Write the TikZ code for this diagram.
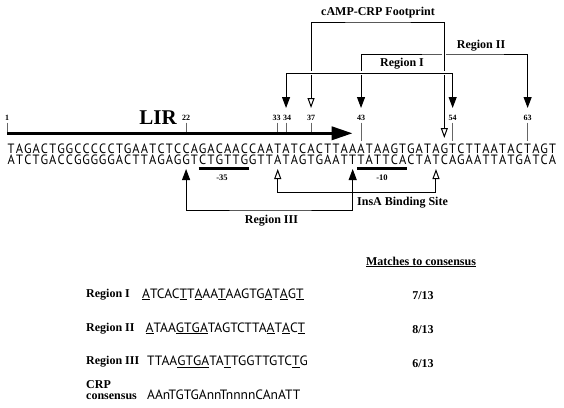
\documentclass[tikz,border=0pt]{standalone}
\usepackage{fontspec}
\setmainfont{Liberation Serif}
\newfontfamily\seqfont{PT Sans}
\newfontfamily\strandfont[FakeStretch=0.92]{PT Sans}
\usetikzlibrary{arrows.meta}
\newcommand\mt[1]{\underline{#1}}
\tikzset{fullTip/.tip={Triangle[length=11pt,width=8pt]},
  openTip/.tip={Triangle[open,length=10pt,width=7pt]},
  lirTip/.tip={Triangle[length=21pt,width=13pt]}}

\begin{document}
\begin{tikzpicture}
[x=1pt,y=-1pt,
  seqDecorate/.style={font=\strandfont\fontsize{13.5}{14}\selectfont,inner sep=0pt,
    minimum width=7pt,text height=10pt,text depth=0pt,anchor=south},
  rowDecorate/.style={font=\seqfont\fontsize{13.5}{14}\selectfont,inner sep=0pt,anchor=base west},
  numDecorate/.style={font=\bfseries\fontsize{8}{9}\selectfont,inner sep=0pt,
    text height=6pt,text depth=0pt,anchor=south},
  labelDecorate/.style={font=\bfseries\fontsize{12}{13}\selectfont,inner sep=0pt,anchor=base},
  lineDecorate/.style={line width=1pt},
  tickDecorate/.style={line width=1pt,draw=black!60},
  bridgeDecorate/.style={preaction={draw=white,line width=4pt,-}},
  boxDecorate/.style={line width=3.5pt}]
\useasboundingbox (0,0) rectangle (564,407);
%% levels
\coordinate (numlev) at (0,121);
\coordinate (barlev) at (0,133.3);
\coordinate (tiplev) at (0,108);
\coordinate (bottiplev) at (0,169);
%% the two strands
\foreach \b [count=\i] in {T,A,G,A,C,T,G,G,C,C,C,C,C,T,G,A,A,T,C,T,C,C,A,G,A,C,A,A,C,C,
  A,A,T,A,T,C,A,C,T,T,A,A,A,T,A,A,G,T,G,A,T,A,G,T,C,T,T,A,A,T,A,C,T,A,G,T} {
  \node (t\i) at (2.83+8.33*\i,153.5) [seqDecorate] {\b};
}
\foreach \b [count=\i] in {A,T,C,T,G,A,C,C,G,G,G,G,G,A,C,T,T,A,G,A,G,G,T,C,T,G,T,T,G,G,
  T,T,A,T,A,G,T,G,A,A,T,T,T,A,T,T,C,A,C,T,A,T,C,A,G,A,A,T,T,A,T,G,A,T,C,A} {
  \node (b\i) at (2.83+8.33*\i,165) [seqDecorate] {\b};
}
%% positions
\node (n1) at ([xshift=-4pt]t1 |- numlev) [numDecorate] {1};
\foreach \n/\dx in {22/0,33/-1,34/1,37/0,43/0,54/0,63/0} {
  \node (n\n) at ([xshift=\dx pt]t\n |- numlev) [numDecorate] {\n};
}
\foreach \n in {22,33,34,37} {
  \draw[tickDecorate] ([yshift=-1.5pt]t\n |- numlev) -- (t\n |- barlev);
}
\draw[tickDecorate] ([yshift=-1.5pt]n1.south) -- (n1 |- barlev);
\foreach \n in {43,54,63} {
  \draw[tickDecorate] ([yshift=-1.5pt]n\n.south) -- ([yshift=2pt]t\n.north);
}
%% LIR
\draw[boxDecorate,-lirTip] (n1 |- barlev) -- (t42 |- barlev);
\node (lir) at (158,124.5) [labelDecorate,font=\bfseries\fontsize{21}{21}\selectfont] {LIR};
%% brackets above
\coordinate (r2lev) at (481,54);
\node (r2Label) at (481,48) [labelDecorate] {Region II};
\draw[fullTip-fullTip,lineDecorate] (t43 |- tiplev) |- (r2lev) -| (t63 |- tiplev);
\coordinate (fplev) at (378,22);
\node (fpLabel) at (378,15.5) [labelDecorate] {cAMP-CRP Footprint};
\draw[openTip-openTip,lineDecorate,bridgeDecorate] (t37 |- tiplev) |- (fplev) -| (t53 |- 0,138);
\coordinate (r1lev) at (402,73.3);
\node (r1Label) at (402,66) [labelDecorate] {Region I};
\draw[fullTip-fullTip,lineDecorate,bridgeDecorate] (t34 |- tiplev) |- (r1lev) -| (t54 |- tiplev);
%% promoter boxes
\draw[boxDecorate] ([yshift=-3.3pt,xshift=-4.17pt]b24.south) -- ([yshift=-3.3pt,xshift=4.17pt]b29.south);
\node (m35) at (222,180.5) [labelDecorate,font=\bfseries\fontsize{8.5}{9}\selectfont] {-35};
\draw[boxDecorate] ([yshift=-3.3pt,xshift=-4.17pt]b43.south) -- ([yshift=-3.3pt,xshift=4.17pt]b48.south);
\node (m10) at (382,180.5) [labelDecorate,font=\bfseries\fontsize{8.5}{9}\selectfont] {-10};
%% brackets below
\coordinate (inslev) at (400,192.7);
\node (insLabel) at (357,205) [labelDecorate,anchor=base west] {InsA Binding Site};
\draw[openTip-openTip,lineDecorate] (b33 |- bottiplev) |- (inslev) -| (b52 |- bottiplev);
\coordinate (r3lev) at (271.5,210);
\node (r3Label) at (271.5,223) [labelDecorate] {Region III};
\draw[fullTip-fullTip,lineDecorate] (b22 |- bottiplev) |- (r3lev) -| (b42 |- bottiplev);
%% table
\node (matchHead) at (421,265) [labelDecorate] {\underline{Matches to consensus}};
\foreach \rname/\rlabel/\y/\x/\rseq/\rfrac in {
  reg1/Region I/298/142/{\mt{A}TCAC\mt{T}T\mt{A}AA\mt{T}AAGTG\mt{A}T\mt{A}G\mt{T}}/7,
  reg2/Region II/332/145.5/{\mt{A}TAA\mt{G}\mt{T}\mt{G}\mt{A}TAGTCTTA\mt{A}T\mt{A}C\mt{T}}/8,
  reg3/Region III/365.5/147/{TTAA\mt{G}\mt{T}\mt{G}\mt{A}TA\mt{T}TGGTTGTC\mt{T}G}/6} {
  \node (\rname) at (86,\y-1) [labelDecorate,anchor=base west] {\rlabel};
  \node (\rname seq) at (\x,\y) [rowDecorate] {\rseq};
  \node (\rname frac) at (423,\y+1.5) [labelDecorate] {\rfrac/13};
}
\node (crp) at (86,388) [labelDecorate,anchor=base west] {CRP};
\node (crpb) at (86,399) [labelDecorate,anchor=base west] {consensus};
\node (crpseq) at (147,399) [rowDecorate] {AAnTGTGAnnTnnnnCAnATT};
\end{tikzpicture}
\end{document}
